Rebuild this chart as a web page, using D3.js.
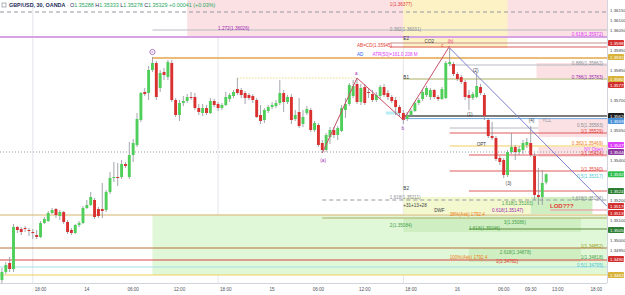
<!DOCTYPE html>
<html>
<head>
<meta charset="utf-8">
<script src="https://cdn.jsdelivr.net/npm/d3@7"></script>
<style>
  body { margin: 0; background: #fff; }
  svg { display: block; font-family: "Liberation Sans", Arial, sans-serif; }
</style>
</head>
<body>
<svg id="chart" width="625" height="295"></svg>
<script>
// GBP/USD 30m bars, first bar on the 13th at 13:00
const barStart = new Date(2025, 9, 13, 13, 0);

const opens = [
  1.34800, 1.34840, 1.34885, 1.34855, 1.35065, 1.35055, 1.35060, 1.35050, 1.35040, 1.35025,
  1.35015, 1.35085, 1.35095, 1.35135, 1.35155, 1.35120, 1.35140, 1.35090, 1.35050, 1.35035,
  1.35075, 1.35085, 1.35160, 1.35175, 1.35200, 1.35155, 1.35155, 1.35150, 1.35240, 1.35310,
  1.35315, 1.35315, 1.35380, 1.35315, 1.35425, 1.35475, 1.35600, 1.35740, 1.35735, 1.35850,
  1.35885, 1.35760, 1.35840, 1.35815, 1.35885, 1.35700, 1.35625, 1.35685, 1.35695, 1.35715,
  1.35715, 1.35660, 1.35635, 1.35660, 1.35635, 1.35695, 1.35680, 1.35660, 1.35675, 1.35705,
  1.35720, 1.35755, 1.35750, 1.35735, 1.35725, 1.35720, 1.35700, 1.35625, 1.35600, 1.35645,
  1.35665, 1.35670, 1.35685, 1.35735, 1.35690, 1.35715, 1.35605, 1.35640, 1.35580, 1.35635,
  1.35650, 1.35550, 1.35575, 1.35485, 1.35450, 1.35515, 1.35550, 1.35525, 1.35545, 1.35650,
  1.35680, 1.35720, 1.35780, 1.35690, 1.35765, 1.35740, 1.35730, 1.35700, 1.35720, 1.35765,
  1.35735, 1.35715, 1.35700, 1.35665, 1.35635, 1.35605, 1.35625, 1.35645, 1.35685, 1.35705,
  1.35725, 1.35715, 1.35750, 1.35715, 1.35705, 1.35710, 1.35880, 1.35880, 1.35830, 1.35815,
  1.35790, 1.35725, 1.35710, 1.35715, 1.35765, 1.35725, 1.35600, 1.35520, 1.35510, 1.35410,
  1.35400, 1.35325, 1.35440, 1.35465, 1.35440, 1.35450, 1.35475, 1.35485, 1.35420, 1.35225,
  1.35215, 1.35288
];
const highs = [
  1.34860, 1.34890, 1.34915, 1.35080, 1.35070, 1.35065, 1.35070, 1.35060, 1.35055, 1.35050,
  1.35095, 1.35115, 1.35145, 1.35160, 1.35160, 1.35150, 1.35145, 1.35100, 1.35060, 1.35080,
  1.35095, 1.35170, 1.35200, 1.35240, 1.35210, 1.35165, 1.35285, 1.35250, 1.35340, 1.35390,
  1.35385, 1.35400, 1.35390, 1.35490, 1.35505, 1.35635, 1.35740, 1.35760, 1.35870, 1.35915,
  1.35895, 1.35850, 1.35860, 1.35900, 1.35900, 1.35710, 1.35700, 1.35720, 1.35730, 1.35740,
  1.35735, 1.35680, 1.35680, 1.35675, 1.35710, 1.35705, 1.35690, 1.35685, 1.35740, 1.35735,
  1.35750, 1.35810, 1.35760, 1.35745, 1.35735, 1.35730, 1.35710, 1.35675, 1.35660, 1.35675,
  1.35690, 1.35700, 1.35800, 1.35750, 1.35725, 1.35730, 1.35650, 1.35710, 1.35650, 1.35670,
  1.35660, 1.35595, 1.35585, 1.35500, 1.35535, 1.35565, 1.35565, 1.35570, 1.35675, 1.35710,
  1.35785, 1.35800, 1.35810, 1.35780, 1.35780, 1.35760, 1.35750, 1.35740, 1.35775, 1.35780,
  1.35750, 1.35725, 1.35715, 1.35675, 1.35650, 1.35640, 1.35655, 1.35695, 1.35710, 1.35755,
  1.35770, 1.35760, 1.35755, 1.35725, 1.35765, 1.35895, 1.35960, 1.35890, 1.35840, 1.35825,
  1.35800, 1.35750, 1.35740, 1.35840, 1.35780, 1.35735, 1.35610, 1.35590, 1.35520, 1.35420,
  1.35410, 1.35450, 1.35535, 1.35475, 1.35470, 1.35500, 1.35510, 1.35570, 1.35435, 1.35360,
  1.35350, 1.35333
];
const lows = [
  1.34780, 1.34830, 1.34840, 1.34840, 1.35035, 1.35025, 1.35040, 1.35020, 1.35005, 1.35005,
  1.35010, 1.35080, 1.35090, 1.35130, 1.35110, 1.35100, 1.35080, 1.35030, 1.35025, 1.35030,
  1.35065, 1.35080, 1.35155, 1.35170, 1.35105, 1.35110, 1.35110, 1.35140, 1.35230, 1.35290,
  1.35270, 1.35305, 1.35360, 1.35305, 1.35390, 1.35465, 1.35590, 1.35720, 1.35700, 1.35840,
  1.35700, 1.35740, 1.35800, 1.35800, 1.35690, 1.35615, 1.35595, 1.35670, 1.35685, 1.35700,
  1.35650, 1.35625, 1.35620, 1.35625, 1.35630, 1.35665, 1.35645, 1.35650, 1.35670, 1.35690,
  1.35710, 1.35725, 1.35710, 1.35680, 1.35700, 1.35685, 1.35610, 1.35580, 1.35585, 1.35635,
  1.35655, 1.35660, 1.35675, 1.35640, 1.35680, 1.35580, 1.35595, 1.35560, 1.35565, 1.35625,
  1.35540, 1.35540, 1.35465, 1.35435, 1.35440, 1.35480, 1.35510, 1.35500, 1.35540, 1.35610,
  1.35670, 1.35710, 1.35680, 1.35675, 1.35675, 1.35710, 1.35690, 1.35690, 1.35705, 1.35715,
  1.35700, 1.35685, 1.35625, 1.35615, 1.35580, 1.35595, 1.35615, 1.35640, 1.35675, 1.35695,
  1.35715, 1.35700, 1.35705, 1.35695, 1.35700, 1.35705, 1.35870, 1.35820, 1.35795, 1.35780,
  1.35700, 1.35650, 1.35700, 1.35710, 1.35725, 1.35600, 1.35510, 1.35500, 1.35395, 1.35375,
  1.35310, 1.35315, 1.35430, 1.35400, 1.35425, 1.35430, 1.35460, 1.35415, 1.35200, 1.35175,
  1.35175, 1.35278
];
const closes = [
  1.34840, 1.34875, 1.34855, 1.35065, 1.35050, 1.35040, 1.35055, 1.35045, 1.35035, 1.35015,
  1.35085, 1.35105, 1.35135, 1.35150, 1.35125, 1.35140, 1.35090, 1.35040, 1.35035, 1.35075,
  1.35085, 1.35160, 1.35175, 1.35215, 1.35115, 1.35120, 1.35145, 1.35240, 1.35310, 1.35315,
  1.35310, 1.35380, 1.35370, 1.35425, 1.35485, 1.35605, 1.35735, 1.35730, 1.35850, 1.35885,
  1.35715, 1.35835, 1.35825, 1.35890, 1.35700, 1.35625, 1.35685, 1.35695, 1.35715, 1.35710,
  1.35660, 1.35640, 1.35660, 1.35635, 1.35695, 1.35675, 1.35660, 1.35675, 1.35715, 1.35725,
  1.35740, 1.35735, 1.35725, 1.35710, 1.35710, 1.35700, 1.35615, 1.35595, 1.35650, 1.35665,
  1.35675, 1.35685, 1.35735, 1.35690, 1.35715, 1.35600, 1.35625, 1.35570, 1.35615, 1.35655,
  1.35550, 1.35585, 1.35475, 1.35450, 1.35525, 1.35550, 1.35525, 1.35560, 1.35660, 1.35680,
  1.35775, 1.35770, 1.35690, 1.35760, 1.35685, 1.35735, 1.35700, 1.35725, 1.35765, 1.35725,
  1.35715, 1.35695, 1.35665, 1.35635, 1.35600, 1.35625, 1.35645, 1.35685, 1.35700, 1.35740,
  1.35760, 1.35750, 1.35715, 1.35705, 1.35755, 1.35885, 1.35890, 1.35830, 1.35805, 1.35790,
  1.35715, 1.35710, 1.35730, 1.35770, 1.35735, 1.35620, 1.35520, 1.35510, 1.35405, 1.35390,
  1.35325, 1.35440, 1.35465, 1.35440, 1.35455, 1.35485, 1.35490, 1.35425, 1.35225, 1.35215,
  1.35285, 1.35329
];

const priceTicks = [
  1.3615, 1.3610, 1.3605, 1.3600, 1.3595, 1.3590, 1.3585, 1.3580, 1.3575, 1.3570,
  1.3565, 1.3560, 1.3555, 1.3550, 1.3545, 1.3540, 1.3535, 1.3530, 1.3525, 1.3520,
  1.3515, 1.3510, 1.3505, 1.3500, 1.3495, 1.3490, 1.3485, 1.3480
];
const timeTicks = [
  new Date(2025, 9, 13, 18), new Date(2025, 9, 14, 0), new Date(2025, 9, 14, 6),
  new Date(2025, 9, 14, 12), new Date(2025, 9, 14, 18), new Date(2025, 9, 15, 0),
  new Date(2025, 9, 15, 6), new Date(2025, 9, 15, 12), new Date(2025, 9, 15, 18),
  new Date(2025, 9, 16, 0), new Date(2025, 9, 16, 6), new Date(2025, 9, 16, 9, 30),
  new Date(2025, 9, 16, 13), new Date(2025, 9, 16, 18)
];
const timeLabels = ["18:00", "14", "06:00", "12:00", "18:00", "15", "06:00", "12:00",
  "18:00", "16", "06:00", "09:30", "13:00", "18:00"];
const sessionBreaks = [new Date(2025, 9, 13, 17), new Date(2025, 9, 14, 17), new Date(2025, 9, 15, 17)];

// zones: price top/bottom, from/to bar index (null = chart edge)
const zones = [
  { top: 1.3620, bottom: 1.36020, from: 48, to: null, kind: "pink" },
  { top: 1.3620, bottom: 1.35960, from: 104, to: 131, kind: "yellow" },
  { top: 1.35885, bottom: 1.35810, from: 138.5, to: null, kind: "pink" },
  { top: 1.35610, bottom: 1.35515, from: 139, to: null, kind: "pink" },
  { top: 1.35465, bottom: 1.35415, from: 139, to: null, kind: "pink" },
  { top: 1.35125, bottom: 1.34825, from: 39, to: null, kind: "green" },
  { top: 1.35215, bottom: 1.35130, from: 104, to: 137, kind: "lime" },
  { top: 1.35215, bottom: 1.35130, from: 137, to: 153, kind: "green2" },
  { top: 1.35110, bottom: 1.35040, from: 104, to: 150, kind: "green2" },
  { top: 1.34960, bottom: 1.34890, from: 121, to: 150, kind: "green2" }
];

// horizontal levels
const levels = [
  { p: 1.36140, from: null, to: null, kind: "dashGray" },
  { p: 1.36050, from: 39, to: null, kind: "gray" },
  { p: 1.36015, from: null, to: null, kind: "violet" },
  { p: 1.35985, from: 100.5, to: null, kind: "brownRed" },
  { p: 1.35965, from: 100.5, to: null, kind: "red" },
  { p: 1.35910, from: 39, to: null, kind: "orange" },
  { p: 1.35875, from: 116, to: null, kind: "gray" },
  { p: 1.35810, from: 61, to: 92, kind: "dotYellow" },
  { p: 1.35805, from: 104, to: null, kind: "olive" },
  { p: 1.35620, from: 104, to: null, kind: "dark" },
  { p: 1.35607, from: 104, to: null, kind: "blue" },
  { p: 1.35560, from: 116, to: 139, kind: "gray" },
  { p: 1.35535, from: 116, to: null, kind: "red" },
  { p: 1.35470, from: 116, to: null, kind: "yellow" },
  { p: 1.35440, from: null, to: null, kind: "dotGray" },
  { p: 1.35425, from: 121, to: null, kind: "red" },
  { p: 1.35345, from: 116, to: null, kind: "red" },
  { p: 1.35245, from: 121, to: null, kind: "red" },
  { p: 1.35200, from: 83, to: null, kind: "dashGray" },
  { p: 1.35150, from: 142, to: null, kind: "pinkLine" },
  { p: 1.35125, from: null, to: null, kind: "tan" },
  { p: 1.35110, from: 83, to: null, kind: "olive" },
  { p: 1.35055, from: 121, to: null, kind: "darkGreen" },
  { p: 1.34960, from: null, to: null, kind: "brown" },
  { p: 1.34900, from: null, to: null, kind: "strongRed" },
  { p: 1.34865, from: null, to: null, kind: "cyan" },
  { p: 1.34825, from: null, to: null, kind: "yellow" },
  { p: 1.35635, from: 99.5, to: 103, kind: "cyanBand" }
];

// trend lines as [bar, price] pairs
const trendLines = [
  { pts: [[116, 1.35960], [156.7, 1.35170]], kind: "slate" },
  { pts: [[83, 1.35435], [92, 1.35810], [104, 1.35600], [116, 1.35970]], kind: "abc" }
];

// annotations: bar (null = right edge), price, text, ink
const notes = [
  { bar: 100.5, p: 1.36180, t: "1(1.36377)", ink: "red" },
  { bar: 56, p: 1.36060, t: "1.272(1.36026)", ink: "purple" },
  { bar: 100.5, p: 1.36055, t: "0.382(1.36031)", ink: "gray" },
  { bar: 104, p: 1.36010, t: "E2", ink: "dark" },
  { bar: 109.5, p: 1.35995, t: "CO2", ink: "dark" },
  { bar: 113.8, p: 1.35975, t: "c", ink: "red" },
  { bar: 115.5, p: 1.35995, t: "(b)", ink: "pink" },
  { bar: 92, p: 1.35975, t: "AB=CD(1.35945)", ink: "red" },
  { bar: 92, p: 1.35930, t: "AD", ink: "blue" },
  { bar: 96, p: 1.35930, t: "ATR(50)=161.0 208 M", ink: "magenta" },
  { bar: 91.5, p: 1.35835, t: "a", ink: "purple" },
  { bar: 82.5, p: 1.35400, t: "(a)", ink: "purple" },
  { bar: 103.5, p: 1.35560, t: "b", ink: "purple" },
  { bar: 104, p: 1.35815, t: "B1", ink: "dark" },
  { bar: 104, p: 1.35260, t: "B2", ink: "dark" },
  { bar: 120.5, p: 1.35630, t: "(1)", ink: "dark" },
  { bar: 122, p: 1.35850, t: "(2)", ink: "dark" },
  { bar: 130.5, p: 1.35285, t: "(3)", ink: "dark" },
  { bar: 136.5, p: 1.35600, t: "(4)", ink: "dark" },
  { bar: 123, p: 1.35480, t: "OPT", ink: "dark" },
  { bar: 140, p: 1.35600, t: "YCL", ink: "gray" },
  { bar: null, p: 1.36030, t: "0.618(1.35972)", ink: "magenta" },
  { bar: null, p: 1.35885, t: "0.886(1.35862)", ink: "gray" },
  { bar: null, p: 1.35815, t: "0.786(1.35783)", ink: "purple" },
  { bar: null, p: 1.35575, t: "0.5(1.35583)", ink: "gray" },
  { bar: null, p: 1.35545, t: "1(1.35529)", ink: "red" },
  { bar: null, p: 1.35485, t: "0.382(1.35469)", ink: "orange" },
  { bar: null, p: 1.35455, t: "NY Open", ink: "magenta" },
  { bar: null, p: 1.35435, t: "1(1.35424)", ink: "red" },
  { bar: null, p: 1.35355, t: "1(1.35340)", ink: "red" },
  { bar: null, p: 1.35320, t: "0.5(1.35317)", ink: "cyan" },
  { bar: null, p: 1.35210, t: "1.618(1.35196)", ink: "gray" },
  { bar: 100.5, p: 1.35215, t: "1.618(1.35211)", ink: "gray" },
  { bar: 104, p: 1.35175, t: "+31+13+28", ink: "dark" },
  { bar: 129.5, p: 1.35185, t: "1.618(1.35183)", ink: "green" },
  { bar: 112, p: 1.35150, t: "DWF", ink: "dark" },
  { bar: 127, p: 1.35150, t: "0.618(1.35147)", ink: "purple" },
  { bar: 116, p: 1.35130, t: "38%(Ask) 1792.4", ink: "orange" },
  { bar: 130, p: 1.35090, t: "3(1.35086)", ink: "green" },
  { bar: 100.5, p: 1.35075, t: "2(1.35084)", ink: "green" },
  { bar: 121, p: 1.35060, t: "1.618(1.35046)", ink: "green" },
  { bar: null, p: 1.34970, t: "1(1.34852)", ink: "olive" },
  { bar: 129, p: 1.34940, t: "2.618(1.34878)", ink: "green" },
  { bar: 116, p: 1.34915, t: "100%(Ask) 1792.4", ink: "orange" },
  { bar: 128, p: 1.34895, t: "1(1.34782)", ink: "red" },
  { bar: null, p: 1.34915, t: "1(1.34818)", ink: "green" },
  { bar: null, p: 1.34875, t: "0.5(1.34795)", ink: "cyan" }
];

// coloured price tags on the axis
const tags = [
  { p: 1.35985, kind: "red" }, { p: 1.35915, kind: "gold" }, { p: 1.35805, kind: "gold" },
  { p: 1.35775, kind: "red" }, { p: 1.35620, kind: "black" }, { p: 1.35595, kind: "blue" },
  { p: 1.35475, kind: "magenta" }, { p: 1.35440, kind: "purple" }, { p: 1.35329, kind: "lime" },
  { p: 1.35245, kind: "darkGreen" }, { p: 1.35170, kind: "red" }, { p: 1.35135, kind: "red" },
  { p: 1.35050, kind: "darkGreen" }, { p: 1.34905, kind: "red" }, { p: 1.34825, kind: "gold" }
];

const W = 625, H = 295, plotW = 607, plotH = 283;
const svg = d3.select("#chart");

const x = d3.scaleTime()
  .domain([new Date(2025, 9, 13, 12, 45), new Date(2025, 9, 16, 19, 23)])
  .range([0, plotW]);
const y = d3.scaleLinear().domain([1.34785, 1.3620]).range([plotH, 0]);
const barX = i => x(new Date(barStart.getTime() + i * 30 * 60000));
const edgeX = (b, fallback) => b === null ? fallback : Math.max(0, Math.min(plotW, barX(b)));

const zoneFill = {
  pink: "#fbe1e4", yellow: "#fcf2c6", green: "#e0f7d8", lime: "#f3f8cf", green2: "#cfefc2"
};
const lineStyle = {
  dashGray: { c: "#9598a1", w: 1, d: "4,3" },
  gray: { c: "#b8bbc4", w: 1 },
  violet: { c: "#d7a2e4", w: 2 },
  brownRed: { c: "#c98e86", w: 1 },
  red: { c: "#df5a5a", w: 1 },
  orange: { c: "#e3a649", w: 1.5 },
  dotYellow: { c: "#e2c64a", w: 1, d: "1,2" },
  olive: { c: "#a9ae62", w: 1 },
  dark: { c: "#505050", w: 1.5 },
  blue: { c: "#6fa8dc", w: 1 },
  yellow: { c: "#efcf5c", w: 1 },
  dotGray: { c: "#9598a1", w: 1, d: "1,2" },
  pinkLine: { c: "#f08aa0", w: 1 },
  tan: { c: "#d8b46c", w: 1 },
  darkGreen: { c: "#5c8c3c", w: 1 },
  brown: { c: "#b5733d", w: 1 },
  strongRed: { c: "#d74545", w: 1 },
  cyan: { c: "#a5dfe8", w: 1 },
  cyanBand: { c: "#b7eef3", w: 3 },
  slate: { c: "#7a7fc8", w: 1 },
  abc: { c: "#c8506a", w: 1 }
};
const inks = {
  red: "#e53935", purple: "#9c27b0", magenta: "#e040fb", gray: "#8a8d96", green: "#43a047",
  orange: "#ef7b10", dark: "#3a3d45", blue: "#2962ff", cyan: "#4dc6d8", olive: "#9e9d24", pink: "#ec407a"
};
const tagFill = {
  red: "#d32f2f", gold: "#d9b23a", black: "#1e1e1e", blue: "#4a90d9", magenta: "#e040fb",
  purple: "#8e3a9e", lime: "#2fbf4f", darkGreen: "#2e7d32"
};

// session separators
svg.append("g").selectAll("line").data(sessionBreaks).join("line")
  .attr("x1", d => x(d)).attr("x2", d => x(d))
  .attr("y1", 0).attr("y2", plotH)
  .attr("stroke", "#e3e5ea").attr("stroke-width", 1);

// zones
svg.append("g").selectAll("rect").data(zones).join("rect")
  .attr("x", d => edgeX(d.from, 0))
  .attr("width", d => edgeX(d.to, plotW) - edgeX(d.from, 0))
  .attr("y", d => y(d.top))
  .attr("height", d => y(d.bottom) - y(d.top))
  .attr("fill", d => zoneFill[d.kind]);

// levels
svg.append("g").selectAll("line").data(levels).join("line")
  .attr("x1", d => edgeX(d.from, 0)).attr("x2", d => edgeX(d.to, plotW))
  .attr("y1", d => y(d.p)).attr("y2", d => y(d.p))
  .attr("stroke", d => lineStyle[d.kind].c)
  .attr("stroke-width", d => lineStyle[d.kind].w)
  .attr("stroke-dasharray", d => lineStyle[d.kind].d || null);

// candles
const bars = d3.range(closes.length).map(i => ({
  i, o: opens[i], h: highs[i], l: lows[i], c: closes[i]
}));
const candle = svg.append("g").selectAll("g").data(bars).join("g");
candle.append("line")
  .attr("x1", d => barX(d.i)).attr("x2", d => barX(d.i))
  .attr("y1", d => y(d.h)).attr("y2", d => y(d.l))
  .attr("stroke", "#8c8f98").attr("stroke-width", 0.8);
candle.append("rect")
  .attr("x", d => barX(d.i) - 1.45).attr("width", 2.9)
  .attr("y", d => y(Math.max(d.o, d.c)))
  .attr("height", d => Math.max(0.8, Math.abs(y(d.o) - y(d.c))))
  .attr("fill", d => d.c >= d.o ? "#4fcf5a" : "#d8312f");

// trend lines
const line = d3.line().x(d => barX(d[0])).y(d => y(d[1]));
svg.append("g").selectAll("path").data(trendLines).join("path")
  .attr("d", d => line(d.pts))
  .attr("fill", "none")
  .attr("stroke", d => lineStyle[d.kind].c)
  .attr("stroke-width", d => lineStyle[d.kind].w);

// circled wave label at the c top
const cBar = 39;
svg.append("circle").attr("cx", barX(cBar)).attr("cy", y(highs[cBar]) - 5)
  .attr("r", 2.6).attr("fill", "none").attr("stroke", "#8e44ad").attr("stroke-width", 0.7);
svg.append("text").attr("x", barX(cBar)).attr("y", y(highs[cBar]) - 3.6)
  .attr("text-anchor", "middle").attr("font-size", 4).attr("fill", "#8e44ad").text("c");

// annotations
svg.append("g").selectAll("text").data(notes).join("text")
  .attr("x", d => d.bar === null ? plotW - 4 : barX(d.bar))
  .attr("y", d => y(d.p) + 1.6)
  .attr("text-anchor", d => d.bar === null ? "end" : "start")
  .attr("font-size", 4.6)
  .attr("fill", d => inks[d.ink])
  .text(d => d.t);
svg.append("text").attr("x", barX(142)).attr("y", y(1.35170) + 2)
  .attr("font-size", 6).attr("font-weight", "bold").attr("fill", "#e53935").text("LOD???");

// price axis: plain ticks give way to the coloured tags, as on the platform
const axisG = svg.append("g");
axisG.append("rect").attr("x", plotW).attr("y", 0).attr("width", W - plotW).attr("height", H).attr("fill", "#fff");
axisG.append("line").attr("x1", plotW + 0.5).attr("x2", plotW + 0.5).attr("y1", 0).attr("y2", plotH)
  .attr("stroke", "#d1d4dc");
const freeTicks = priceTicks.filter(t => tags.every(g => Math.abs(y(g.p) - y(t)) > 6));
axisG.selectAll("text.tick").data(freeTicks).join("text").attr("class", "tick")
  .attr("x", plotW + 3).attr("y", d => y(d) + 1.6)
  .attr("font-size", 4.4).attr("fill", "#3a3d45")
  .text(d => d.toFixed(5));
const tag = axisG.selectAll("g.tag").data(tags).join("g").attr("class", "tag");
tag.append("rect").attr("x", plotW + 1).attr("y", d => y(d.p) - 3)
  .attr("width", W - plotW - 2).attr("height", 6).attr("rx", 1)
  .attr("fill", d => tagFill[d.kind]);
tag.append("text").attr("x", plotW + 3).attr("y", d => y(d.p) + 1.6)
  .attr("font-size", 4.4).attr("fill", "#fff")
  .text(d => d.p.toFixed(5));

// time axis
svg.append("line").attr("x1", 0).attr("x2", plotW).attr("y1", plotH + 0.5).attr("y2", plotH + 0.5)
  .attr("stroke", "#d1d4dc");
svg.append("g").selectAll("text").data(timeTicks).join("text")
  .attr("x", d => x(d)).attr("y", plotH + 8)
  .attr("text-anchor", "middle").attr("font-size", 4.6).attr("fill", "#50535e")
  .text((d, i) => timeLabels[i]);

// header
const head = svg.append("text").attr("x", 9).attr("y", 7).attr("font-size", 5.4);
head.append("tspan").attr("fill", "#1c2a5a").attr("font-weight", "bold").text("GBP/USD, 30, OANDA");
head.append("tspan").attr("fill", "#888").text("  ·  ");
[["O", opens[141]], ["H", highs[141]], ["L", lows[141]], ["C", closes[141]]].forEach(([k, v]) => {
  head.append("tspan").attr("fill", "#1c2a5a").text(k);
  head.append("tspan").attr("fill", "#26a65b").text(v.toFixed(5) + "  ");
});
head.append("tspan").attr("fill", "#26a65b").text("+0.00041 (+0.03%)");
svg.append("rect").attr("x", 2).attr("y", 3).attr("width", 4).attr("height", 4)
  .attr("fill", "none").attr("stroke", "#7a7f8c").attr("stroke-width", 0.6);
</script>
</body>
</html>
